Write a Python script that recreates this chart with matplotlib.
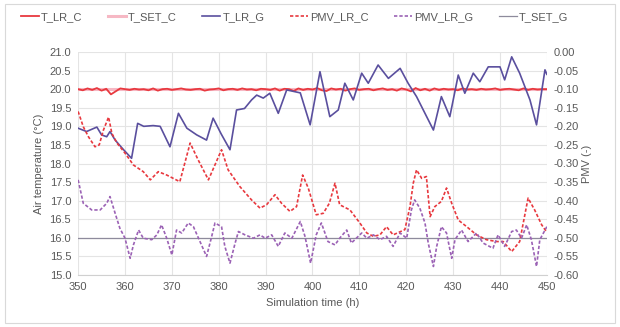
import numpy as np
import matplotlib
matplotlib.use("Agg")
import matplotlib.pyplot as plt

plt.rcParams['font.family'] = ['Liberation Sans', 'DejaVu Sans']

# hourly living room temperature, conventional control
hours_c = np.arange(350, 451)
T_LR_C = [20.00, 19.97, 20.02, 19.98, 20.03, 19.96, 20.01, 19.86, 19.94, 20.02,
          20.00, 19.98, 20.01, 19.99, 20.00, 19.97, 20.02, 19.96, 20.00, 20.01,
          19.98, 20.00, 20.02, 19.99, 19.98, 20.00, 20.01, 19.96, 19.99, 20.00,
          20.02, 19.97, 20.00, 20.01, 19.98, 20.02, 19.99, 20.00, 19.97, 20.01,
          20.00, 19.98, 20.02, 19.96, 20.01, 20.00, 19.95, 20.02, 19.98, 20.01,
          19.99, 20.03, 19.97, 19.95, 20.02, 19.99, 20.01, 19.96, 20.00, 20.02,
          19.98, 20.00, 20.01, 19.97, 20.00, 20.02, 19.98, 20.00, 19.96, 20.02,
          19.99, 19.94, 20.03, 19.97, 20.01, 19.96, 20.02, 19.98, 20.01, 19.99,
          20.00, 19.97, 20.02, 19.99, 20.00, 19.98, 20.01, 19.99, 20.00, 20.02,
          19.98, 20.00, 20.01, 19.99, 19.97, 20.02, 19.98, 20.01, 19.99, 20.00, 20.00]
T_SET_C = 20.0
T_SET_G = 16.0

# living room temperature, proposed control
hours_g = [350, 351.8, 354, 355, 356.1, 356.8, 357.9, 359.7, 361.4, 362.7, 364, 366,
           367.5, 369.6, 371.4, 373.2, 375.3, 377.4, 378.8, 380.5, 382.4, 383.8, 385.5,
           387, 388.1, 389.5, 390.9, 392.7, 394.5, 397.4, 399.5, 401.6, 403.7, 405.5,
           406.9, 408.7, 410.5, 411.9, 414, 416.2, 418.7, 420.4, 422.2, 425.8, 427.5,
           429.3, 431.1, 432.5, 434.3, 435.7, 437.5, 440, 441, 442.5, 444.2, 446.4,
           447.8, 449.6, 450]
T_LR_G = [18.95, 18.86, 18.98, 18.77, 18.72, 18.86, 18.63, 18.37, 18.14, 19.08, 19.0, 19.02,
          19.0, 18.45, 19.35, 18.95, 18.77, 18.63, 19.22, 18.8, 18.37, 19.44, 19.48,
          19.71, 19.84, 19.76, 19.89, 19.35, 19.98, 19.9, 19.04, 20.47, 19.26, 19.44,
          20.16, 19.71, 20.43, 20.16, 20.65, 20.29, 20.56, 20.16, 19.8, 18.9, 19.8,
          19.26, 20.38, 19.89, 20.43, 20.2, 20.6, 20.6, 20.25, 20.87, 20.43, 19.71,
          19.04, 20.52, 20.4]

# PMV, conventional control
hours_pc = [350, 351.1, 352.2, 353.6, 354.5, 355.4, 356.5, 357.2, 358.3, 360, 361.8, 363.9,
            365.4, 367.1, 368.9, 371.7, 373.9, 375.6, 377.8, 380.6, 382, 384.5, 387,
            388.8, 390.2, 392, 393.4, 395.2, 396.6, 397.9, 399.1, 400.8, 402.3, 403.6,
            404.8, 405.8, 408, 410.1, 411.6, 413, 414.4, 415.8, 417.2, 419.7, 420.8,
            421.5, 422.2, 423.3, 424.3, 425.1, 426.1, 427.5, 428.6, 429.7, 431.1, 432.9,
            435, 437.1, 439.3, 440.7, 442.5, 444.2, 446, 447.4, 448.9, 450]
PMV_LR_C = [-0.160, -0.201, -0.228, -0.255, -0.250, -0.210, -0.175, -0.219, -0.245, -0.272,
            -0.304, -0.322, -0.344, -0.322, -0.331, -0.349, -0.245, -0.290, -0.344, -0.263,
            -0.317, -0.362, -0.398, -0.420, -0.411, -0.384, -0.407, -0.429, -0.416, -0.331,
            -0.366, -0.438, -0.434, -0.407, -0.353, -0.411, -0.425, -0.460, -0.487, -0.496,
            -0.492, -0.470, -0.492, -0.478, -0.416, -0.353, -0.317, -0.340, -0.335, -0.443,
            -0.416, -0.402, -0.366, -0.407, -0.452, -0.470, -0.492, -0.505, -0.510, -0.510,
            -0.537, -0.510, -0.393, -0.425, -0.465, -0.485]

# PMV, proposed control
hours_pg = [350, 351.1, 352.9, 354.7, 356.1, 356.8, 357.9, 358.9, 360, 361.1, 361.8, 362.9,
            363.9, 365.7, 366.8, 367.8, 368.9, 370, 371, 372.1, 373.5, 374.6, 376, 377.4,
            378.5, 379.2, 380.6, 381.3, 382.4, 383.5, 384.2, 385.6, 387.4, 388.8, 389.9,
            391.3, 392.7, 394.1, 395.6, 397.4, 398.4, 399.6, 400.8, 401.9, 403.3, 404.8,
            405.8, 407.3, 408.3, 410.5, 411.6, 413, 414.4, 415.8, 417.2, 418.7, 420.1,
            421.1, 421.8, 422.9, 424, 424.7, 425.8, 426.5, 427.5, 428.6, 429.7, 430.4,
            431.8, 433.2, 435, 436.4, 438.5, 439.6, 441, 442.5, 443.5, 444.6, 445.7,
            446.7, 447.8, 448.5, 450]
PMV_LR_G = [-0.344, -0.407, -0.425, -0.425, -0.407, -0.389, -0.434, -0.474, -0.501, -0.555,
            -0.519, -0.479, -0.501, -0.505, -0.492, -0.465, -0.501, -0.546, -0.479, -0.487,
            -0.460, -0.470, -0.510, -0.550, -0.496, -0.460, -0.470, -0.523, -0.568, -0.514,
            -0.483, -0.492, -0.501, -0.492, -0.501, -0.492, -0.523, -0.487, -0.501, -0.456,
            -0.496, -0.568, -0.492, -0.460, -0.510, -0.519, -0.501, -0.479, -0.514, -0.487,
            -0.501, -0.492, -0.505, -0.496, -0.523, -0.487, -0.501, -0.425, -0.398, -0.420,
            -0.460, -0.514, -0.577, -0.523, -0.470, -0.487, -0.555, -0.505, -0.479, -0.510,
            -0.487, -0.514, -0.528, -0.492, -0.523, -0.483, -0.479, -0.501, -0.465, -0.505,
            -0.577, -0.505, -0.470]

txt = '#595959'
grid_c = '#e4e4e4'
fs = 8

fig = plt.figure(figsize=(6.2, 3.27), dpi=100)
ax = fig.add_axes([0.126, 0.159, 0.756, 0.682])
ax2 = ax.twinx()

l1, = ax.plot(hours_c, [T_SET_C] * len(hours_c), color='#f6b8c4', lw=2.2, label='T_SET_C', zorder=2)
l0, = ax.plot(hours_c, T_LR_C, color='#e8393f', lw=1.3, label='T_LR_C', zorder=3)
l2, = ax.plot(hours_g, T_LR_G, color='#5a4f9e', lw=1.2, label='T_LR_G', zorder=3)
l5, = ax.plot(hours_c, [T_SET_G] * len(hours_c), color='#8e8b9c', lw=0.9, label='T_SET_G', zorder=2)
l3, = ax2.plot(hours_pc, PMV_LR_C, color='#e8393f', lw=1.2, ls=(0, (2, 1.2)), label='PMV_LR_C')
l4, = ax2.plot(hours_pg, PMV_LR_G, color='#9b62b5', lw=1.2, ls=(0, (2, 1.2)), label='PMV_LR_G')

ax.set_xlim(350, 450)
ax.set_ylim(15, 21)
ax2.set_ylim(-0.60, 0.0)
ax.set_xticks(np.arange(350, 451, 10))
ax.set_yticks(np.arange(15, 21.01, 0.5))
ax2.set_yticks(np.arange(-0.60, 0.001, 0.05))
ax.yaxis.set_major_formatter(matplotlib.ticker.FormatStrFormatter('%.1f'))
ax2.yaxis.set_major_formatter(matplotlib.ticker.FormatStrFormatter('%.2f'))
ax.grid(True, color=grid_c, lw=0.8)
ax.set_axisbelow(True)

for a in (ax, ax2):
    for s in a.spines.values():
        s.set_visible(False)
    a.tick_params(length=0, labelsize=fs, colors=txt, pad=5)
ax.spines['bottom'].set_visible(True)
ax.spines['bottom'].set_color('#d0d0d0')

ax.set_xlabel('Simulation time (h)', fontsize=fs, color=txt, labelpad=4)
ax.set_ylabel('Air temperature (\u00b0C)', fontsize=fs, color=txt, labelpad=4)
ax2.set_ylabel('PMV (-)', fontsize=fs, color=txt, labelpad=2)

fig.legend(handles=[l0, l1, l2, l3, l4, l5], loc='upper center', bbox_to_anchor=(0.475, 0.995),
           ncol=6, frameon=False, fontsize=fs, handlelength=1.6, handletextpad=0.2,
           columnspacing=2.3, labelcolor=txt)

fig.patches.append(matplotlib.patches.Rectangle((0.008, 0.012), 0.984, 0.976, transform=fig.transFigure,
                                                fill=False, edgecolor='#d9d9d9', lw=0.8))

fig.savefig('out.png', dpi=100)
